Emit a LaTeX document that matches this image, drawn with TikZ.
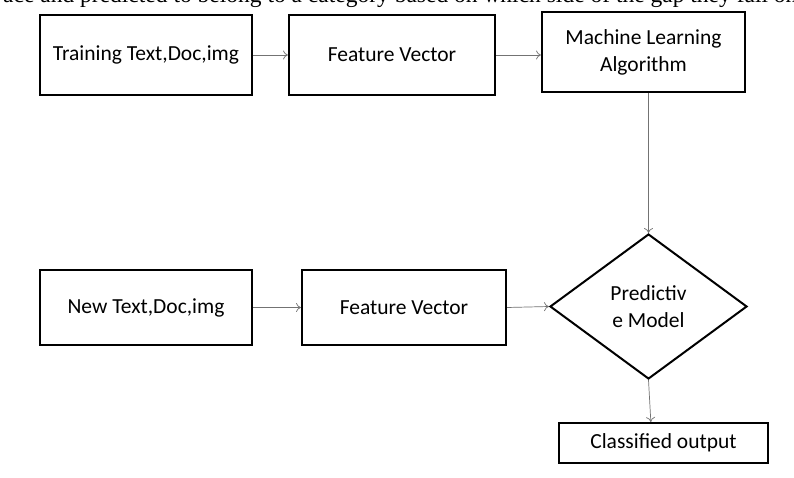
\documentclass[tikz,border=0pt]{standalone}
\usepackage{fontspec}
\setmainfont{Carlito}
\newfontfamily\serifcut{Liberation Serif}
\usetikzlibrary{shapes.geometric,arrows.meta,calc}
\begin{document}
\begin{tikzpicture}[x=1pt,y=-1pt,
  box/.style={draw=black,line width=2pt,rectangle,inner sep=2pt,align=center,
    font=\fontsize{21.5}{27}\selectfont},
  conn/.style={draw=black!55,line width=0.7pt,-{To[length=5pt,width=9pt]}}]
\useasboundingbox (0,0) rectangle (794,478);
\clip (0,0) rectangle (794,478);
\fill[white] (0,0) rectangle (794,478);
\node[anchor=base west,inner sep=0,font=\serifcut\fontsize{23.5}{28}\selectfont] (cut) at (3,2.5)
  {ace and predicted to belong to a category based on which side of the gap they fall on};
\node[box,minimum width=212pt,minimum height=80pt] (tr) at (146,55) {Training Text,Doc,img};
\node[box,minimum width=206pt,minimum height=80pt] (fva) at (392,55) {Feature Vector};
\node[box,minimum width=203pt,minimum height=80pt] (ml) at (643.5,52) {Machine Learning\\Algorithm};
\node[box,minimum width=212pt,minimum height=75pt] (nt) at (146,307.5) {New Text,Doc,img};
\node[box,minimum width=204pt,minimum height=75pt] (fvb) at (404,307.5) {Feature Vector};
\node[box,diamond,inner sep=0pt,minimum width=197pt,minimum height=145pt] (pm) at (648.5,306.5)
  {Predictiv\\e Model};
\node[box,minimum width=209pt,minimum height=40pt] (co) at (663.5,443) {Classified output};
\draw[conn] (tr.east) -- (fva.west);
\draw[conn] (fva.east) -- (fva.east -| ml.west);
\draw[conn] (pm.north |- ml.south) -- (pm.north);
\draw[conn] (nt.east) -- (fvb.west);
\draw[conn] (fvb.east) -- (pm.west);
\draw[conn] (pm.south) -- ($(co.north west)!0.44!(co.north east)$);
\end{tikzpicture}
\end{document}
